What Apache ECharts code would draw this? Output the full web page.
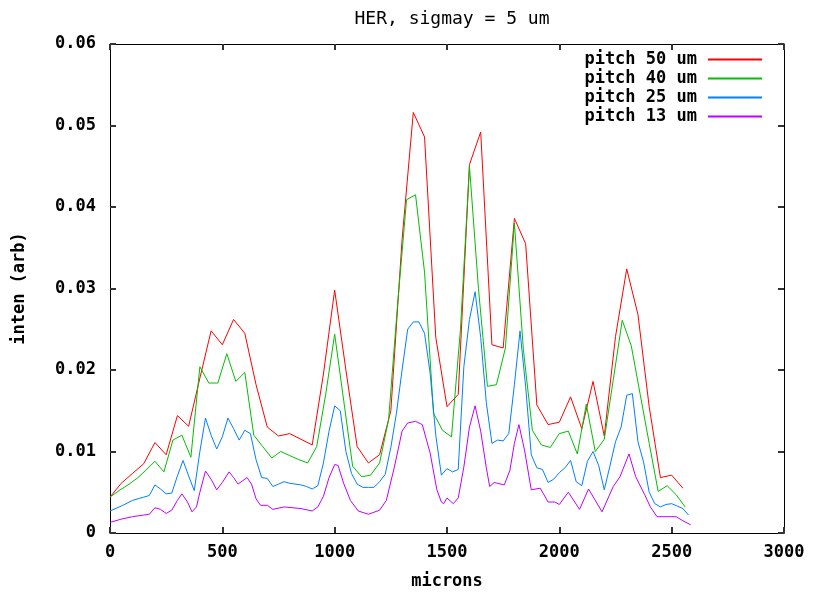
<!DOCTYPE html>
<html>
<head>
<meta charset="utf-8">
<title>HER, sigmay = 5 um</title>
<script src="https://cdn.jsdelivr.net/npm/echarts@6/dist/echarts.min.js"></script>
<style>
  html, body { margin: 0; padding: 0; background: #fff; }
  #chart { width: 813px; height: 595px; }
</style>
</head>
<body>
<div id="chart"></div>
<script>
// values, x in microns
const seriesNames = ['pitch 50 um', 'pitch 40 um', 'pitch 25 um', 'pitch 13 um'];
const seriesColors = ['#ff0000', '#00c000', '#0080ff', '#c000ff'];

const x50 = [0, 50, 100, 150, 200, 250, 300, 350, 400, 450, 500, 550, 600, 650, 700, 750, 800, 850, 900, 950,
  1000, 1050, 1100, 1150, 1200, 1250, 1300, 1350, 1400, 1450, 1500, 1550, 1600, 1650, 1700, 1750, 1800, 1850, 1900, 1950,
  2000, 2050, 2100, 2150, 2200, 2250, 2300, 2350, 2400, 2450, 2500, 2550];
const y50 = [0.0044, 0.0061, 0.0073, 0.0085, 0.0111, 0.0096, 0.0144, 0.0131, 0.0190, 0.0248, 0.0231, 0.0262, 0.0245, 0.0182, 0.0130, 0.0119, 0.0122, 0.0115, 0.0108, 0.0195,
  0.0298, 0.0200, 0.0106, 0.0086, 0.0096, 0.0150, 0.0360, 0.0516, 0.0486, 0.0240, 0.0155, 0.0170, 0.0452, 0.0492, 0.0231, 0.0227, 0.0386, 0.0355, 0.0157, 0.0133,
  0.0136, 0.0167, 0.0128, 0.0186, 0.0119, 0.0241, 0.0324, 0.0268, 0.0155, 0.0068, 0.0071, 0.0055];

const x40 = [0, 40, 80, 120, 160, 200, 240, 280, 320, 360, 400, 440, 480, 520, 560, 600, 640, 680, 720, 760, 800, 840, 880, 920, 960,
  1000, 1040, 1080, 1120, 1160, 1200, 1240, 1280, 1320, 1360, 1400, 1440, 1480, 1520, 1560, 1600, 1640, 1680, 1720, 1760, 1800, 1840, 1880, 1920, 1960,
  2000, 2040, 2080, 2120, 2160, 2200, 2240, 2280, 2320, 2360, 2400, 2440, 2480, 2520, 2560];
const y40 = [0.0044, 0.0052, 0.0059, 0.0067, 0.0077, 0.0088, 0.0075, 0.0114, 0.0120, 0.0093, 0.0204, 0.0184, 0.0184, 0.0220, 0.0186, 0.0197, 0.0120, 0.0106, 0.0092, 0.0100, 0.0095, 0.0090, 0.0086, 0.0106, 0.0170,
  0.0244, 0.0163, 0.0082, 0.0069, 0.0071, 0.0086, 0.0139, 0.0280, 0.0409, 0.0415, 0.0320, 0.0147, 0.0126, 0.0118, 0.0250, 0.0450, 0.0300, 0.0180, 0.0182, 0.0227, 0.0380, 0.0225, 0.0126, 0.0108, 0.0105,
  0.0122, 0.0125, 0.0097, 0.0158, 0.0100, 0.0115, 0.0188, 0.0261, 0.0230, 0.0170, 0.0110, 0.0051, 0.0058, 0.0047, 0.0032];

const x25 = [0, 50, 100, 150, 175, 200, 225, 250, 275, 300, 325, 350, 375, 400, 425, 450, 475, 500, 525, 550, 575, 600, 625, 650, 675, 700, 725, 750, 775, 800, 850, 875, 900, 925, 950, 975,
  1000, 1025, 1050, 1075, 1100, 1125, 1150, 1175, 1200, 1225, 1250, 1275, 1300, 1325, 1350, 1375, 1400, 1425, 1450, 1475, 1500, 1525, 1550, 1575, 1600, 1625, 1650, 1675, 1700, 1725, 1750, 1775, 1800, 1825, 1850, 1875, 1900, 1925, 1950, 1975,
  2000, 2025, 2050, 2075, 2100, 2125, 2150, 2175, 2200, 2225, 2250, 2275, 2300, 2325, 2350, 2375, 2400, 2425, 2450, 2475, 2500, 2525, 2550, 2575];
const y25 = [0.0027, 0.0033, 0.0040, 0.0044, 0.0046, 0.0059, 0.0054, 0.0048, 0.0049, 0.0070, 0.0089, 0.0070, 0.0052, 0.0100, 0.0141, 0.0120, 0.0103, 0.0118, 0.0141, 0.0128, 0.0114, 0.0126, 0.0122, 0.0090, 0.0068, 0.0067, 0.0057, 0.0060, 0.0063, 0.0061, 0.0059, 0.0057, 0.0054, 0.0058, 0.0086, 0.0125,
  0.0156, 0.0150, 0.0100, 0.0073, 0.0060, 0.0056, 0.0056, 0.0056, 0.0063, 0.0072, 0.0105, 0.0147, 0.0200, 0.0250, 0.0259, 0.0259, 0.0245, 0.0196, 0.0120, 0.0071, 0.0079, 0.0075, 0.0078, 0.0204, 0.0262, 0.0296, 0.0240, 0.0160, 0.0110, 0.0114, 0.0113, 0.0122, 0.0182, 0.0248, 0.0180, 0.0096, 0.0080, 0.0078, 0.0062, 0.0066,
  0.0074, 0.0080, 0.0089, 0.0063, 0.0058, 0.0088, 0.0100, 0.0083, 0.0053, 0.0082, 0.0112, 0.0130, 0.0169, 0.0171, 0.0112, 0.0087, 0.0050, 0.0036, 0.0032, 0.0035, 0.0036, 0.0033, 0.0030, 0.0022];

const x13 = [0, 50, 100, 150, 175, 200, 225, 250, 275, 300, 320, 345, 365, 385, 400, 425, 450, 475, 500, 530, 550, 570, 590, 610, 630, 650, 670, 700, 725, 775, 850, 900, 925, 950, 975,
  1000, 1015, 1040, 1070, 1105, 1150, 1200, 1230, 1265, 1300, 1325, 1360, 1390, 1425, 1455, 1475, 1485, 1500, 1528, 1550, 1575, 1600, 1625, 1650, 1675, 1690, 1710, 1725, 1755, 1780, 1800, 1820, 1845, 1875, 1915, 1950, 1980,
  2000, 2040, 2090, 2130, 2190, 2240, 2270, 2310, 2340, 2380, 2405, 2435, 2480, 2520, 2550, 2585];
const y13 = [0.0013, 0.0017, 0.0020, 0.0022, 0.0023, 0.0031, 0.0029, 0.0024, 0.0028, 0.0040, 0.0048, 0.0038, 0.0026, 0.0032, 0.0050, 0.0076, 0.0066, 0.0053, 0.0062, 0.0075, 0.0068, 0.0060, 0.0064, 0.0068, 0.0060, 0.0042, 0.0034, 0.0034, 0.0029, 0.0032, 0.0030, 0.0027, 0.0032, 0.0045, 0.0068,
  0.0084, 0.0083, 0.0061, 0.0040, 0.0027, 0.0023, 0.0028, 0.0040, 0.0080, 0.0125, 0.0135, 0.0137, 0.0133, 0.0098, 0.0053, 0.0038, 0.0036, 0.0043, 0.0036, 0.0043, 0.0081, 0.0130, 0.0156, 0.0125, 0.0080, 0.0057, 0.0062, 0.0061, 0.0059, 0.0077, 0.0110, 0.0133, 0.0102, 0.0053, 0.0055, 0.0038, 0.0038,
  0.0035, 0.0050, 0.0029, 0.0054, 0.0026, 0.0057, 0.0069, 0.0097, 0.0069, 0.0047, 0.0032, 0.0020, 0.0020, 0.0020, 0.0015, 0.0010];

const xs = [x50, x40, x25, x13];
const ys = [y50, y40, y25, y13];

const FONT = '"DejaVu Sans Mono", "Liberation Mono", monospace';

function pairs(xv, yv) {
    return xv.map((x, i) => [x, yv[i]]);
}

// border on all four sides, ticks pointing inwards like gnuplot
function borderLine() {
    return { show: true, onZero: false, lineStyle: { color: '#000', width: 1 } };
}

function borderTick() {
    return { show: true, inside: true, length: 6, lineStyle: { color: '#333', width: 2 } };
}

const noGrid = { show: true, lineStyle: { color: 'rgba(0,0,0,0)' } };

function renderChart() {
    const chart = echarts.init(document.getElementById('chart'));

    const option = {
        animation: false,
        backgroundColor: '#fff',
        title: {
            text: 'HER, sigmay = 5 um',
            left: 447,
            textAlign: 'center',
            top: 5,
            textStyle: { fontFamily: FONT, fontSize: 18, fontWeight: 'normal', color: '#000' }
        },
        legend: {
            orient: 'vertical',
            right: 46,
            top: 46,
            align: 'right',
            itemWidth: 54,
            itemHeight: 2,
            itemGap: 2,
            icon: 'rect',
            data: seriesNames,
            textStyle: { fontFamily: FONT, fontSize: 17, fontWeight: 'bold', color: '#000', lineHeight: 15, padding: [0, 6, 0, 0] }
        },
        grid: { left: 110, right: 29, top: 44, bottom: 62 },
        xAxis: [
            {
                type: 'value',
                min: 0,
                max: 3000,
                interval: 500,
                name: 'microns',
                nameLocation: 'middle',
                nameGap: 40,
                nameTextStyle: { fontFamily: FONT, fontSize: 17, fontWeight: 'bold', color: '#000' },
                axisLine: borderLine(),
                axisTick: borderTick(),
                splitLine: noGrid,
                axisLabel: {
                    margin: 11,
                    fontFamily: FONT,
                    fontSize: 17,
                    fontWeight: 'bold',
                    color: '#000',
                    formatter: v => String(v)
                }
            },
            {
                type: 'value',
                position: 'top',
                min: 0,
                max: 3000,
                interval: 500,
                axisLine: borderLine(),
                axisTick: borderTick(),
                splitLine: noGrid,
                axisLabel: { show: false }
            }
        ],
        yAxis: [
            {
                type: 'value',
                min: 0,
                max: 0.06,
                interval: 0.01,
                name: 'inten (arb)',
                nameLocation: 'middle',
                nameRotate: 90,
                nameGap: 82,
                nameTextStyle: { fontFamily: FONT, fontSize: 17, fontWeight: 'bold', color: '#000' },
                axisLine: borderLine(),
                axisTick: borderTick(),
                splitLine: noGrid,
                axisLabel: {
                    margin: 14,
                    fontFamily: FONT,
                    fontSize: 17,
                    fontWeight: 'bold',
                    color: '#000',
                    formatter: v => v === 0 ? '0' : v.toFixed(2)
                }
            },
            {
                type: 'value',
                position: 'right',
                min: 0,
                max: 0.06,
                interval: 0.01,
                axisLine: borderLine(),
                axisTick: borderTick(),
                splitLine: noGrid,
                axisLabel: { show: false }
            }
        ],
        series: seriesNames.map((name, i) => ({
            name: name,
            type: 'line',
            xAxisIndex: 0,
            yAxisIndex: 0,
            symbol: 'none',
            data: pairs(xs[i], ys[i]),
            itemStyle: { color: seriesColors[i] },
            lineStyle: { color: seriesColors[i], width: 1 }
        }))
    };

    chart.setOption(option);
}

document.addEventListener('DOMContentLoaded', renderChart);
</script>
</body>
</html>
